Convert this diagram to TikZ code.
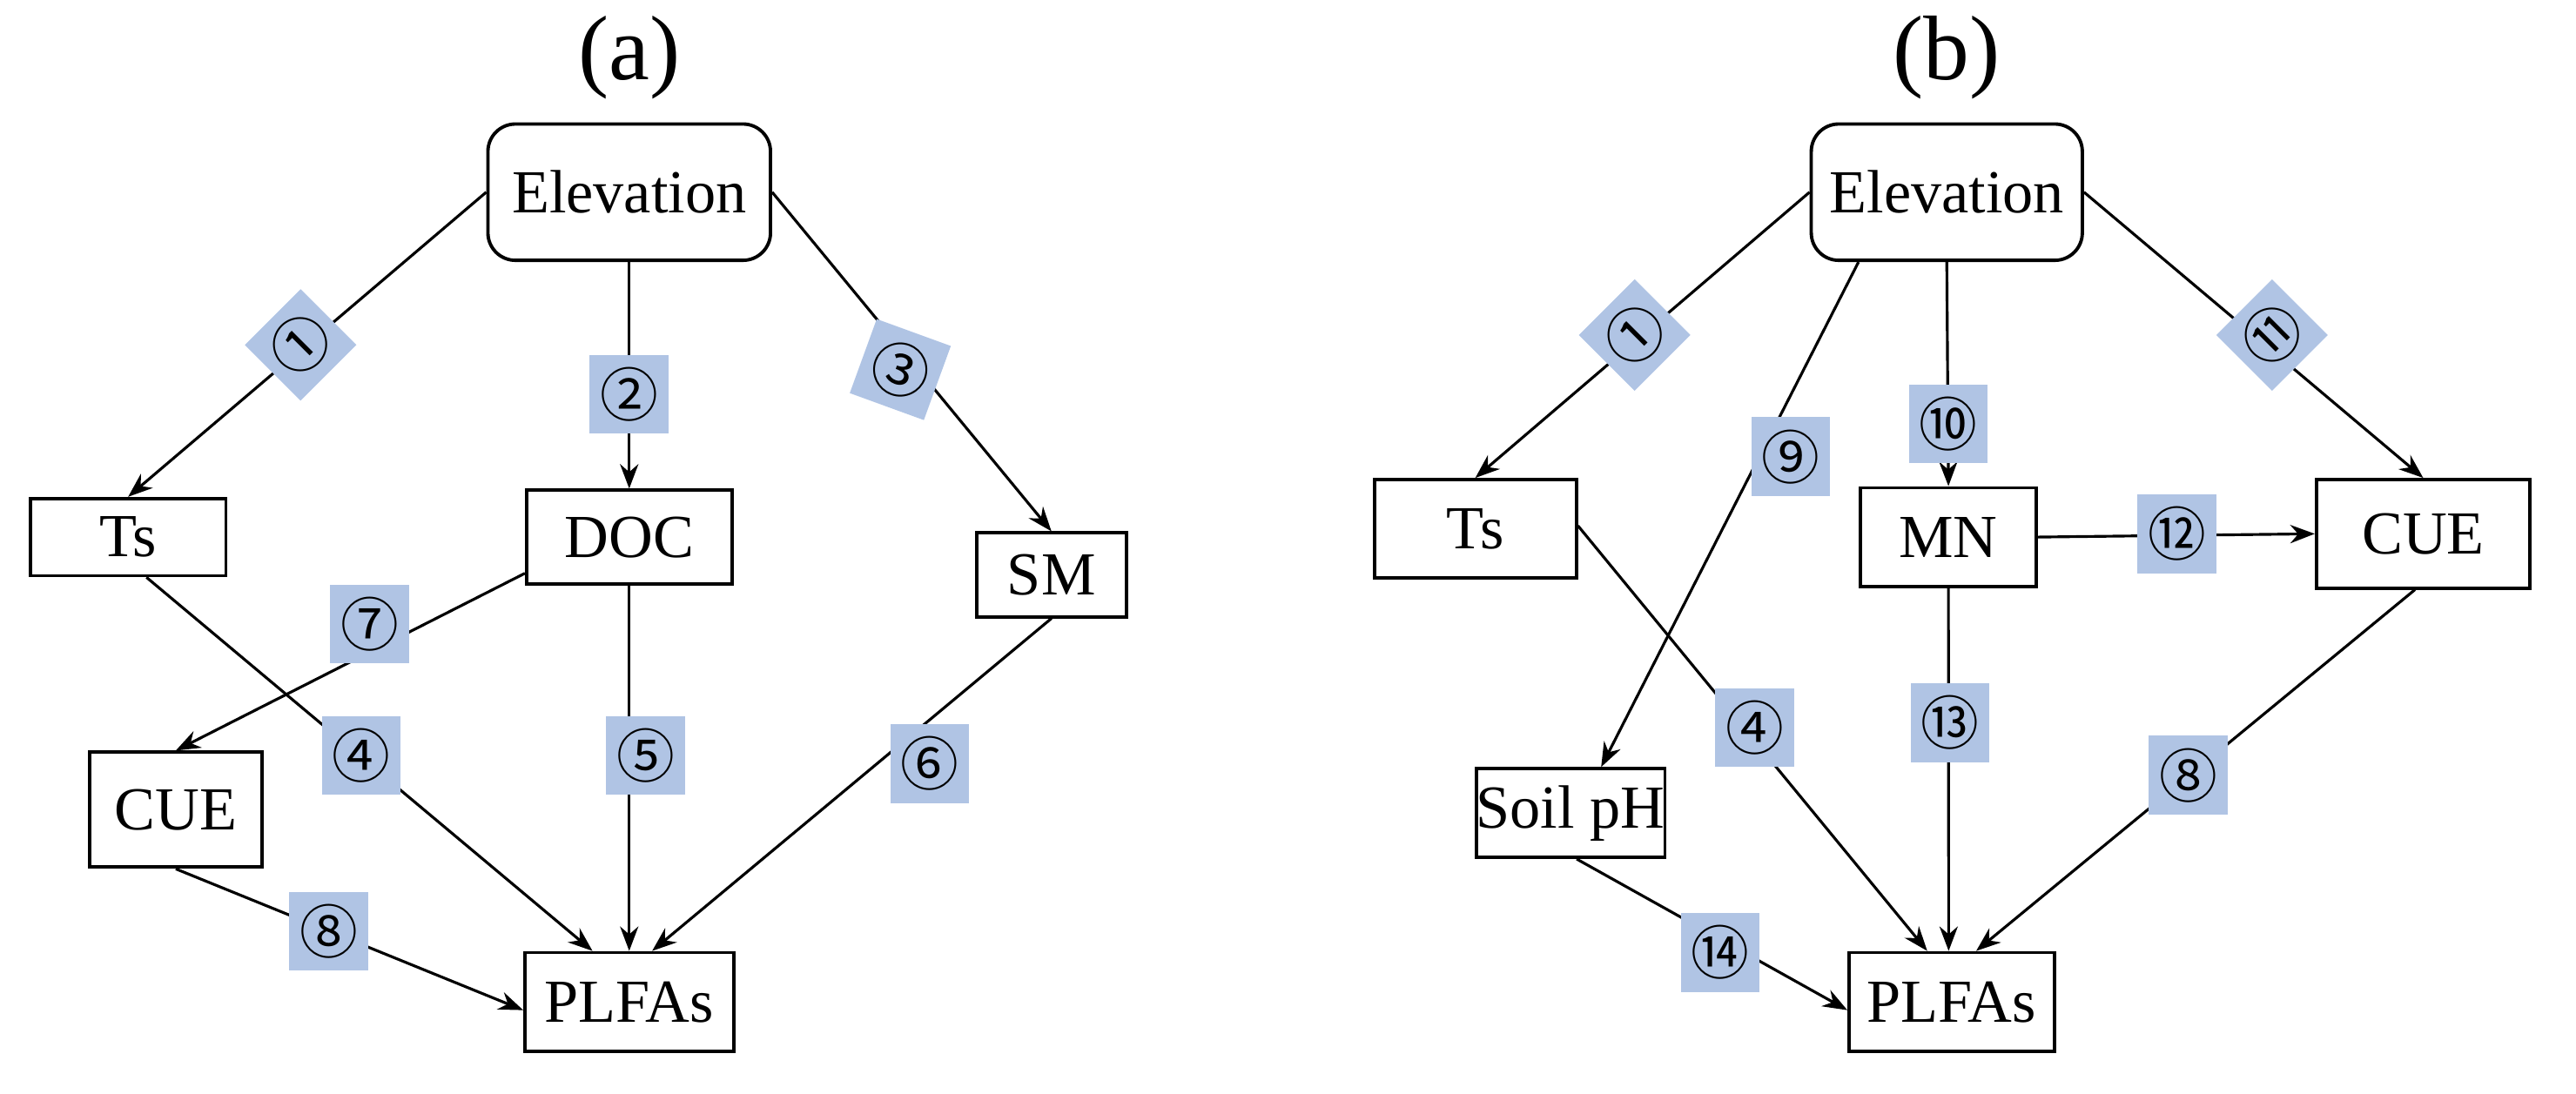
\documentclass[tikz,border=0pt]{standalone}
\usepackage{fontspec}
\setmainfont{Liberation Serif}
\newfontfamily\cfont{Noto Sans CJK SC}
\usetikzlibrary{arrows.meta}
\definecolor{lab}{RGB}{176,196,228}
\begin{document}
\begin{tikzpicture}[x=0.01887cm,y=-0.01887cm,
  box/.style={draw,line width=1.1pt,inner sep=0pt,font=\fontsize{20}{24}\selectfont},
  rbox/.style={box,rounded corners=9pt},
  num/.style={fill=lab,inner sep=0pt,minimum size=48*0.01887cm,font=\cfont\fontsize{19}{21}\selectfont},
  arr/.style={line width=0.9pt,-{Stealth[length=8pt,width=6pt]}},
  ttl/.style={font=\fontsize{30}{34}\selectfont}]
\useasboundingbox (0,0) rectangle (1568,666);
% panel a
\node[ttl] (ta) at (383,35) {(a)};
\node[rbox,minimum width=172*0.01887cm,minimum height=83*0.01887cm] (E) at (383,117) {Elevation};
\node[box,minimum width=119*0.01887cm,minimum height=47*0.01887cm] (Ts) at (78,327) {Ts};
\node[box,minimum width=125*0.01887cm,minimum height=57*0.01887cm] (DOC) at (383,327) {DOC};
\node[box,minimum width=91*0.01887cm,minimum height=51*0.01887cm] (SM) at (640,350) {SM};
\node[box,minimum width=105*0.01887cm,minimum height=70*0.01887cm] (CUE) at (107,493) {CUE};
\node[box,minimum width=127*0.01887cm,minimum height=60*0.01887cm] (P) at (383,610) {PLFAs};
\draw[arr] (E.west) -- (Ts.north);
\draw[arr] (E.south) -- (DOC.north);
\draw[arr] (E.east) -- (SM.north);
\draw[arr] ([yshift=4pt]DOC.south west) -- (CUE.north);
\draw[arr] ([xshift=6pt]Ts.south) -- ([xshift=-12pt]P.north);
\draw[arr] (DOC.south) -- (P.north);
\draw[arr] (SM.south) -- ([xshift=7.5pt]P.north);
\draw[arr] (CUE.south) -- ([yshift=-2.7pt]P.west);
\node[num,rotate=45] (n1) at (183,210) {①};
\node[num] (n2) at (383,240) {②};
\node[num,rotate=-20] (n3) at (548,225) {③};
\node[num] (n7) at (225,380) {⑦};
\node[num] (n4) at (220,460) {④};
\node[num] (n5) at (393,460) {⑤};
\node[num] (n6) at (566,465) {⑥};
\node[num] (n8) at (200,567) {⑧};
% panel b
\node[ttl] (tb) at (1185,35) {(b)};
\node[rbox,minimum width=165*0.01887cm,minimum height=83*0.01887cm] (E2) at (1185,117) {Elevation};
\node[box,minimum width=123*0.01887cm,minimum height=60*0.01887cm] (Ts2) at (898,322) {Ts};
\node[box,minimum width=107*0.01887cm,minimum height=60*0.01887cm] (MN) at (1186,327) {MN};
\node[box,minimum width=130*0.01887cm,minimum height=66*0.01887cm] (CUE2) at (1475,325) {CUE};
\node[box,minimum width=112*0.01887cm,minimum height=54*0.01887cm] (pH) at (956,495) {Soil pH};
\node[box,minimum width=125*0.01887cm,minimum height=60*0.01887cm] (P2) at (1188,610) {PLFAs};
\draw[arr] (E2.west) -- (Ts2.north);
\draw[arr] ([xshift=16pt]E2.south west) -- ([xshift=10pt]pH.north);
\draw[arr] (E2.south) -- (MN.north);
\draw[arr] (E2.east) -- (CUE2.north);
\draw[arr] (MN.east) -- (CUE2.west);
\draw[arr] ([yshift=1pt]Ts2.east) -- ([xshift=-8pt]P2.north);
\draw[arr] (MN.south) -- ([xshift=-1pt]P2.north);
\draw[arr] ([xshift=-2.7pt]CUE2.south) -- ([xshift=8pt]P2.north);
\draw[arr] ([xshift=2pt]pH.south) -- ([yshift=-2.7pt]P2.west);
\node[num,rotate=45] (m1) at (995,204) {①};
\node[num] (m9) at (1090,278) {⑨};
\node[num] (m10) at (1186,258) {⑩};
\node[num,rotate=45] (m11) at (1383,204) {⑪};
\node[num] (m12) at (1325,325) {⑫};
\node[num] (m4) at (1068,443) {④};
\node[num] (m13) at (1187,440) {⑬};
\node[num] (m8) at (1332,472) {⑧};
\node[num] (m14) at (1047,580) {⑭};
\end{tikzpicture}
\end{document}
